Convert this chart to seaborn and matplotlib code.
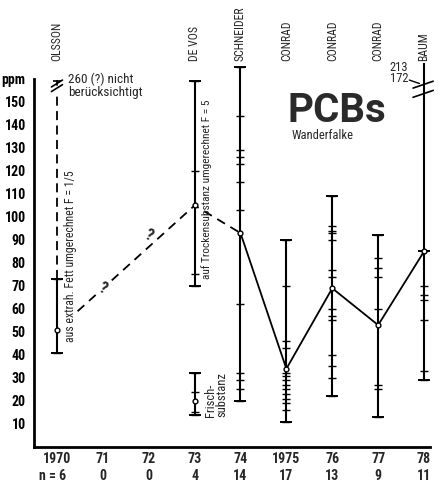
import matplotlib
matplotlib.use('Agg')
import matplotlib.pyplot as plt
import seaborn as sns
import pandas as pd

# ---------------- data ----------------
years = [1970, 1971, 1972, 1973, 1974, 1975, 1976, 1977, 1978]
year_labels = ["1970", "71", "72", "73", "74", "1975", "76", "77", "78"]
n_labels = ["n = 6", "0", "0", "4", "14", "17", "13", "9", "11"]

authors = ["OLSSON", "DE VOS", "SCHNEIDER", "CONRAD", "CONRAD", "CONRAD", "BAUM"]
author_years = [1970, 1973, 1974, 1975, 1976, 1977, 1978]

# individual values (tick marks on the range lines)
study_years = [1970, 1973, 1973, 1974, 1975, 1976, 1977, 1978]
study_values = [
    [41, 73],
    [70, 75, 120, 159],
    [14, 15, 24, 32],
    [20, 25, 29, 32, 62, 103, 115, 123, 126, 129, 144, 165],
    [11, 16, 19, 21, 23, 25, 27, 29, 31, 32, 43, 46, 70, 90],
    [22, 30, 35, 40, 55, 57, 60, 74, 77, 90, 93, 94, 96, 109],
    [13, 25, 27, 60, 74, 78, 82, 92],
    [29, 33, 55, 64, 66, 70, 85],
]
study_means = [51, 105, 20, 93, 34, 69, 53, 85]

# OLSSON dashed upper extension, BAUM line above break
olsson_dash = [73, 154]
baum_top = 167
offscale_labels = ["213", "172"]

# trend lines (means)
trend_dashed_x = [1970.45, 1973, 1974]
trend_dashed_y = [59, 105, 93]
trend_solid_x = [1974, 1975, 1976, 1977, 1978]
trend_solid_y = [93, 34, 69, 53, 85]
question_years = [1971, 1972]
question_vals = [69, 92]

yticks = [10, 20, 30, 40, 50, 60, 70, 80, 90, 100, 110, 120, 130, 140, 150]

# ---------------- style ----------------
sns.set_theme(style="white")
FONT = ['Liberation Sans Narrow', 'Roboto Condensed', 'DejaVu Sans Condensed',
        'Roboto', 'DejaVu Sans']
plt.rcParams['font.family'] = FONT
plt.rcParams['font.stretch'] = 'condensed'
WT = 'bold'

W, H = 439, 483
fig = plt.figure(figsize=(W / 100, H / 100), dpi=100)
ax = fig.add_axes([34 / W, 36 / H, (430 - 34) / W, 447 / H])
ax.set_xlim(1969.5, 1978.13)
ax.set_ylim(0, 194.3)

for s in ['top', 'right']:
    ax.spines[s].set_visible(False)
for s in ['left', 'bottom']:
    ax.spines[s].set_color('black')
    ax.spines[s].set_linewidth(2)
ax.spines['left'].set_bounds(0, 160)

ax.set_yticks(yticks + [160])
ax.set_yticklabels([str(v) for v in yticks] + ["ppm"], fontsize=10, family=FONT,
                   fontweight=WT)
ax.tick_params(axis='y', direction='inout', length=4, width=1.2, pad=4, colors='black')
ax.set_xticks([])
ax.grid(False)

xt = ax.get_xaxis_transform()
for yr, lab, n in zip(years, year_labels, n_labels):
    ax.text(yr, -0.026, lab, transform=xt, ha='center', va='center', fontsize=10,
            family=FONT, fontweight=WT, clip_on=False)
    ax.text(yr if n != "n = 6" else yr - 0.1, -0.064, n, transform=xt, ha='center',
            va='center', fontsize=10, family=FONT, fontweight=WT, clip_on=False)

# authors
for yr, a in zip(author_years, authors):
    ax.text(yr, 168, a, rotation=90, ha='center', va='bottom', fontsize=8.5,
            family=FONT, clip_on=False)

# range lines with ticks
for yr, vals, m in zip(study_years, study_values, study_means):
    ax.vlines(yr, min(vals), max(vals), color='black', lw=1.5)
    ax.plot([yr] * len(vals), vals, ls='none', marker='_', ms=6, mew=1.0, color='black')
    ax.plot([yr, yr], [min(vals), max(vals)], ls='none', marker='_', ms=8, mew=1.4,
            color='black')

# OLSSON dashed extension with break
ax.plot([1970, 1970], olsson_dash, color='black', lw=1.3, ls=(0, (5, 3)))
ax.plot([1969.88, 1970.12], [154.5, 157.5], color='black', lw=1.2, clip_on=False)
ax.plot([1969.88, 1970.12], [156.5, 159.5], color='black', lw=1.2, clip_on=False)
ax.plot([1970, 1970], [157.5, 159], color='black', lw=1.3)
ax.plot([1970], [159], marker='_', ms=6, mew=1.2, color='black')
ax.text(1970.24, 157, "260 (?) nicht\nberücksichtigt", ha='left', va='center',
        fontsize=9.5, family=FONT, linespacing=0.9)

# BAUM line above the break
ax.vlines(1978, 85, baum_top, color='black', lw=1.5, clip_on=False)
ax.plot([1977.76, 1978.2], [156, 159], color='black', lw=1.2, clip_on=False)
ax.plot([1977.76, 1978.2], [152, 155], color='black', lw=1.2, clip_on=False)
ax.text(1977.66, 165, offscale_labels[0], ha='right', va='center', fontsize=9,
        family=FONT)
ax.text(1977.66, 160, offscale_labels[1], ha='right', va='center', fontsize=9,
        family=FONT)
ax.plot([1977.68, 1977.9], [159.5, 158], color='black', lw=1.0)

# trend lines
df_dash = pd.DataFrame({'x': trend_dashed_x, 'y': trend_dashed_y})
df_solid = pd.DataFrame({'x': trend_solid_x, 'y': trend_solid_y})
sns.lineplot(data=df_dash, x='x', y='y', ax=ax, color='black', lw=1.3,
             linestyle=(0, (5, 3.5)), sort=False)
sns.lineplot(data=df_solid, x='x', y='y', ax=ax, color='black', lw=1.3, sort=False)
ax.set_xlabel('')
ax.set_ylabel('')

for qx, qy in zip(question_years, question_vals):
    ax.text(qx, qy, "?", ha='center', va='center', fontsize=12, family=FONT,
            rotation=-25, fontweight='bold',
            bbox=dict(boxstyle='square,pad=0.05', fc='white', ec='none'))

# mean circles
df_mean = pd.DataFrame({'x': study_years, 'y': study_means})
sns.scatterplot(data=df_mean, x='x', y='y', ax=ax, marker='o', s=12,
                facecolor='white', edgecolor='black', linewidth=1.0, zorder=5)
ax.set_xlabel('')
ax.set_ylabel('')

# annotations
ax.text(1970.3, 83, "aus extrah. Fett umgerechnet F = 1/5", rotation=90,
        ha='center', va='center', fontsize=8.5, family=FONT)
ax.text(1973.25, 112, "auf Trockensubstanz umgerechnet F = 5", rotation=90,
        ha='center', va='center', fontsize=8.2, family=FONT)
ax.text(1973.2, 23, "Frisch-\nsubstanz", rotation=90, ha='left', va='center',
        fontsize=9, family=FONT, linespacing=0.9)

ax.text(1976.1, 146, "PCBs", ha='center', va='center', fontsize=29,
        fontweight='bold', color='#2a2a2a', family=['Roboto', 'DejaVu Sans'],
        fontstretch='normal')
ax.text(1975.12, 135.5, "Wanderfalke", ha='left', va='center', fontsize=9, family=FONT)

fig.savefig('out.png', dpi=100)
